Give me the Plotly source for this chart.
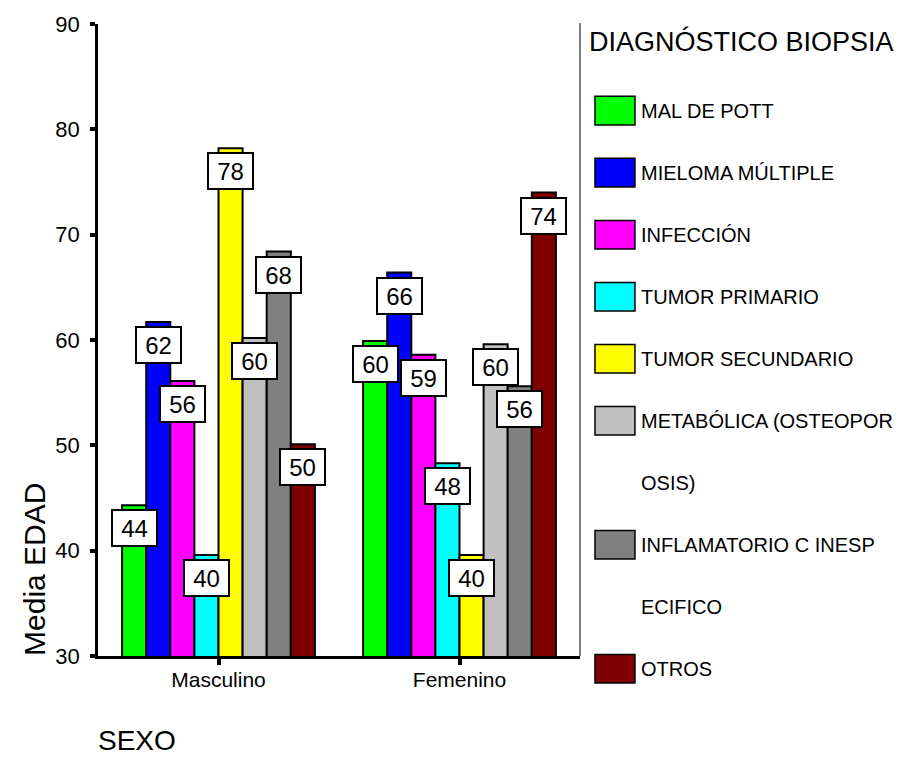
import plotly.graph_objects as go

# Mean age (EDAD) by sex and biopsy diagnosis
categories = ["Masculino", "Femenino"]
diagnoses = [
    "MAL DE POTT",
    "MIELOMA MÚLTIPLE",
    "INFECCIÓN",
    "TUMOR PRIMARIO",
    "TUMOR SECUNDARIO",
    "METABÓLICA (OSTEOPOROSIS)",
    "INFLAMATORIO C INESPECIFICO",
    "OTROS",
]
mean_age_masculino = [44.3, 61.7, 56.1, 39.6, 78.2, 60.2, 68.4, 50.1]
mean_age_femenino = [59.9, 66.4, 58.6, 48.3, 39.6, 59.6, 55.6, 74.0]
y_ticks = [30, 40, 50, 60, 70, 80, 90]

colors = ["#00FF00", "#0000FF", "#FF00FF", "#00FFFF",
          "#FFFF00", "#C0C0C0", "#808080", "#800000"]

FONT = "Liberation Sans, Arial, sans-serif"
W, H = 905, 768
PL, PR, PT, PB = 97.5, 580.0, 14.0, 656.0
BARGAP = 0.2


def px_x(x):
    return (x - PL) / (PR - PL)


def px_y(y):
    return (PB - y) / (PB - PT)


fig = go.Figure()
x_idx = list(range(len(categories)))
series = [mean_age_masculino, mean_age_femenino]

for i, (name, color) in enumerate(zip(diagnoses, colors)):
    fig.add_bar(
        x=x_idx,
        y=[s[i] for s in series],
        name=name,
        marker=dict(color=color, line=dict(color="black", width=2)),
        showlegend=False,
    )

annotations = []
shapes = []

# boxed value labels sitting on each bar top
n = len(diagnoses)
bar_w = (1 - BARGAP) / n
for g, vals in enumerate(series):
    for i, v in enumerate(vals):
        annotations.append(dict(
            x=g + (i - (n - 1) / 2) * bar_w, y=v, xref="x", yref="y",
            text=f"{v:.0f}", showarrow=False, yanchor="top", yshift=-4,
            bgcolor="white", bordercolor="black", borderwidth=2, borderpad=1,
            width=41, height=32, font=dict(family=FONT, size=24, color="black"),
        ))

# right frame line
shapes.append(dict(type="line", xref="paper", yref="paper", x0=1, x1=1,
                   y0=0, y1=px_y(13), line=dict(color="#555555", width=1.5)))

# legend drawn beside the plot
annotations.append(dict(
    x=px_x(587), y=px_y(32), xref="paper", yref="paper", xanchor="left",
    yanchor="middle", text="DIAGNÓSTICO BIOPSIA", showarrow=False,
    font=dict(family=FONT, size=27, color="black"),
))
row = 0
ROW0, ROW_STEP = 102.0, 63.0
for name, color in zip(diagnoses, colors):
    lines = [name[k:k + 20] for k in range(0, len(name), 20)]
    cy = ROW0 + ROW_STEP * row
    shapes.append(dict(type="rect", xref="paper", yref="paper",
                       x0=px_x(595), x1=px_x(635), y0=px_y(cy + 14.5), y1=px_y(cy - 14.5),
                       fillcolor=color, line=dict(color="black", width=1.5)))
    for ln in lines:
        cy = ROW0 + ROW_STEP * row
        annotations.append(dict(
            x=px_x(639), y=px_y(cy), xref="paper", yref="paper", xanchor="left",
            yanchor="middle", text=ln.strip(), showarrow=False,
            font=dict(family=FONT, size=20, color="black"),
        ))
        row += 1

# axis titles
annotations.append(dict(
    x=px_x(34), y=px_y(568), xref="paper", yref="paper", text="Media EDAD",
    textangle=-90, showarrow=False, xanchor="center", yanchor="middle",
    font=dict(family=FONT, size=30, color="black"),
))
annotations.append(dict(
    x=px_x(95), y=px_y(742), xref="paper", yref="paper", text="SEXO",
    showarrow=False, xanchor="left", yanchor="middle",
    font=dict(family=FONT, size=28, color="black"),
))

fig.update_layout(
    width=W, height=H,
    margin=dict(l=PL, r=W - PR, t=PT, b=H - PB, pad=0),
    paper_bgcolor="white", plot_bgcolor="white",
    barmode="group", bargap=BARGAP, bargroupgap=0,
    showlegend=False,
    font=dict(family=FONT, color="black"),
    annotations=annotations, shapes=shapes,
    xaxis=dict(
        range=[-0.5, len(categories) - 0.5], tickvals=x_idx, ticktext=categories,
        showline=True, linecolor="black", linewidth=2.5,
        ticks="outside", ticklen=6, tickwidth=4, tickcolor="black",
        tickfont=dict(family=FONT, size=21, color="black"),
        ticklabelstandoff=-3,
        showgrid=False, zeroline=False,
    ),
    yaxis=dict(
        range=[y_ticks[0], y_ticks[-1]], tickvals=y_ticks,
        showline=True, linecolor="black", linewidth=2.5,
        ticks="outside", ticklen=5, tickwidth=4, tickcolor="black",
        tickfont=dict(family=FONT, size=22, color="black"),
        ticklabelstandoff=6,
        showgrid=False, zeroline=False,
    ),
)

fig.write_html("out.html")
